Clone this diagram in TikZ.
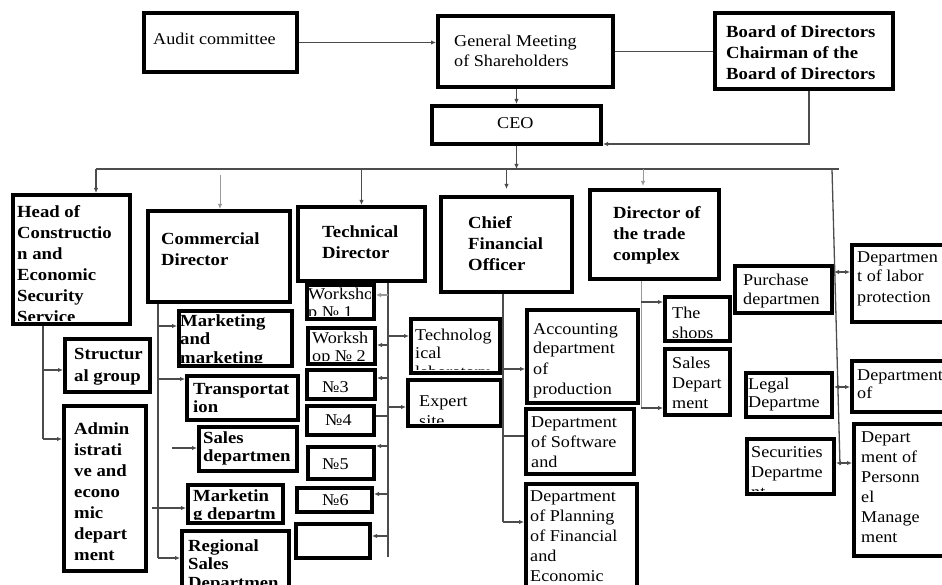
\documentclass[tikz,border=0pt]{standalone}
\usepackage{fontspec}
\setmainfont[FakeStretch=1.1]{Liberation Serif}
\usetikzlibrary{arrows.meta}
\newcommand{\obox}[9]{%
  \begin{scope}
    \clip (#2+2,#3+2) rectangle (#4-2,#5-2);
    \node[txt,#8,anchor=base west] (#1-t) at (#6,#7) {\begin{tabular}[t]{@{}l@{}}#9\end{tabular}};
  \end{scope}
  \node[boxsty,minimum width={#4-#2},minimum height={#5-#3},anchor=north west] (#1) at (#2,#3) {};%
}
\begin{document}
\begin{tikzpicture}[x=1pt,y=-1pt,
  boxsty/.style={draw=black, line width=4pt, inner sep=0pt},
  txt/.style={inner sep=0pt},
  rg/.style={font=\fontsize{16.5}{20}\selectfont},
  rgt/.style={font=\fontsize{16.5}{18.5}\selectfont},
  bd/.style={font=\fontsize{17}{21}\selectfont\bfseries},
  bdt/.style={font=\fontsize{17}{18.5}\selectfont\bfseries},
  bdw/.style={font=\fontsize{17}{22}\selectfont\bfseries},
  con/.style={draw=black!70, line width=1.3pt},
  conl/.style={draw=black!40, line width=1pt},
  arr/.style={con, -{Latex[length=5pt,width=4.5pt]}},
  arrl/.style={conl, -{Latex[length=5pt,width=4.5pt]}},
  biarr/.style={con, {Latex[length=5pt,width=4.5pt]}-{Latex[length=5pt,width=4.5pt]}},
]
\useasboundingbox (0,0) rectangle (942,585);
\clip (0,0) rectangle (942,585);

% top level
\obox{audit}{142}{11}{295}{70}{153}{45}{rg}{Audit committee}
\obox{gm}{436}{14}{611}{85}{454}{47}{rg}{General Meeting\\of Shareholders}
\obox{board}{713}{11}{891}{87}{726}{38}{bd}{Board of Directors\\Chairman of the\\Board of Directors}
\obox{ceo}{430}{104}{599}{142}{497}{129}{rg}{CEO}

% second level
\obox{head}{11}{193}{128}{322}{17}{218}{bd}{Head of\\Constructio\\n and\\Economic\\Security\\Service}
\obox{comm}{146}{209}{288}{300}{161}{245}{bd}{Commercial\\Director}
\obox{tech}{296}{205}{423}{279}{322}{238}{bd}{Technical\\Director}
\obox{cfo}{439}{195}{570}{290}{468}{229}{bd}{Chief\\Financial\\Officer}
\obox{trade}{588}{188}{717}{277}{613}{219}{bd}{Director of\\the trade\\complex}

% head children
\obox{struct}{63}{337}{148}{390}{74}{359}{bdw}{Structur\\al group}
\obox{admin}{62}{404}{144}{569}{74}{434}{bd}{Admin\\istrati\\ve and\\econo\\mic\\depart\\ment}

% commercial children
\obox{mm}{177}{309}{290}{364}{180}{326}{bdt}{Marketing\\and\\marketing}
\obox{transp}{185}{374}{296}{418}{193}{394}{bdt}{Transportat\\ion}
\obox{sales}{197}{425}{295}{469}{203}{443}{bdt}{Sales\\departmen}
\obox{mkt}{186}{483}{281}{521}{193}{501}{bdt}{Marketin\\g departm}
\obox{reg}{180}{529}{287}{592}{188}{551}{bdt}{Regional\\Sales\\Departmen}

% technical children
\obox{w1}{305}{283}{372}{317}{308}{299}{rgt}{Worksho\\p № 1}
\obox{w2}{306}{326}{373}{362}{312}{343}{rgt}{Worksh\\op № 2}
\obox{w3}{305}{368}{373}{397}{322}{392}{rg}{№3}
\obox{w4}{305}{404}{372}{433}{325}{425}{rg}{№4}
\obox{w5}{306}{445}{372}{477}{322}{469}{rg}{№5}
\obox{w6}{295}{486}{370}{510}{322}{505}{rg}{№6}
\obox{w7}{294}{522}{368}{556}{300}{540}{rg}{}
\obox{lab}{409}{317}{498}{371}{415}{340}{rgt}{Technolog\\ical\\laboratory}
\obox{exp}{406}{378}{499}{424}{419}{406}{rg}{Expert\\site}

% cfo children
\obox{acc}{525}{308}{636}{401}{533}{334}{rg}{Accounting\\department\\of\\production}
\obox{soft}{524}{407}{632}{472}{531}{427}{rg}{Department\\of Software\\and}
\obox{plan}{524}{482}{635}{592}{530}{501}{rg}{Department\\of Planning\\of Financial\\and\\Economic}

% trade children
\obox{shops}{663}{295}{728}{339}{672}{318}{rg}{The\\shops}
\obox{sdept}{663}{347}{728}{413}{672}{368}{rg}{Sales\\Depart\\ment}

% right column
\obox{purch}{733}{264}{830}{311}{743}{286}{rgt}{Purchase\\departmen}
\obox{labor}{850}{243}{950}{320}{857}{262}{rg}{Departmen\\t of labor\\protection}
\obox{legal}{744}{371}{830}{415}{748}{389}{rgt}{Legal\\Departme}
\obox{deptof}{850}{359}{950}{410}{857}{380}{rgt}{Department\\of}
\obox{secur}{745}{437}{832}{492}{751}{457}{rg}{Securities\\Departme\\nt}
\obox{pers}{852}{422}{950}{554}{861}{442}{rg}{Depart\\ment of\\Personn\\el\\Manage\\ment}

% coordinates
\coordinate (busL) at (96,169);
\coordinate (busR) at (839,169);
\coordinate (rt) at (832,169);
\coordinate (rb) at (840,465);
\coordinate (hv) at (43,439);
\coordinate (cv) at (158,558);
\coordinate (tv) at (388,557);
\coordinate (fv) at (503,522);
\coordinate (dv) at (641,408);
\coordinate (cs) at (220,175);
\coordinate (ss) at (172,448);
\coordinate (ms) at (152,508);

% top connectors
\draw[arr] (audit.east) -- (audit.east -| gm.west);
\draw[con] (gm.east) -- (gm.east -| board.west);
\draw[arr] (ceo.north |- gm.south) -- (ceo.north);
\draw[arr] ([xshift=5pt]board.south) |- ([yshift=2pt]ceo.south east);
\draw[arr] (ceo.south) -- (ceo.south |- busL);
\draw[con] (busL) -- (busR);

% drops
\draw[arr] (busL) -- (busL |- head.north);
\draw[arrl] (cs) -- (cs |- comm.north);
\draw[arr] (tech.north |- busL) -- (tech.north);
\draw[arr] (cfo.north |- busL) -- ([yshift=6pt]cfo.north);
\draw[arrl] ([xshift=-11.5pt]trade.north |- busL) -- ([xshift=-11.5pt,yshift=2pt]trade.north);
\draw[con] (rt) -- (rb);

% head children
\draw[con] (hv |- head.south) -- (hv);
\draw[arr] (hv |- 0,370) -- (struct.west |- 0,370);
\draw[arr] (hv) -- (hv -| admin.west);

% commercial children
\draw[con] (cv |- comm.south) -- (cv);
\draw[arr] (cv |- 0,326) -- (mm.west |- 0,326);
\draw[arr] (cv |- 0,379) -- (transp.west |- 0,379);
\draw[arr] (ss) -- (ss -| sales.west);
\draw[arr] (ms) -- (ms -| mkt.west);
\draw[arr] (cv) -- (cv -| reg.west);

% technical children
\draw[con] (tv |- tech.south) -- (tv);
\draw[arrl] (tv |- 0,295) -- (w1.east |- 0,295);
\draw[arr] (tv |- 0,345) -- (w2.east |- 0,345);
\draw[arr] (tv |- 0,378) -- (w3.east |- 0,378);
\draw[con] (tv |- 0,416) -- (w4.east |- 0,416);
\draw[arr] (tv |- 0,446) -- (w5.east |- 0,446);
\draw[arr] (tv |- 0,494) -- (w6.east |- 0,494);
\draw[arr] (tv |- 0,536) -- (w7.east |- 0,536);
\draw[arr] (tv |- 0,336) -- (lab.west |- 0,336);
\draw[arr] (tv |- 0,407) -- (exp.west |- 0,407);

% cfo children
\draw[con] (fv |- cfo.south) -- (fv);
\draw[arr] (fv |- 0,369) -- (acc.west |- 0,369);
\draw[con] (fv |- 0,436) -- (soft.west |- 0,436);
\draw[arr] (fv) -- (fv -| plan.west);

% trade children
\draw[conl] (dv |- trade.south) -- (dv);
\draw[arr] (dv |- 0,302) -- (shops.west |- 0,302);
\draw[arr] (dv) -- (dv -| sdept.west);

% right column
\draw[biarr] (purch.east |- 0,272) -- (labor.west |- 0,272);
\draw[biarr] (legal.east |- 0,387) -- (deptof.west |- 0,387);
\draw[biarr] (secur.east |- 0,463) -- (pers.west |- 0,463);
\end{tikzpicture}
\end{document}
